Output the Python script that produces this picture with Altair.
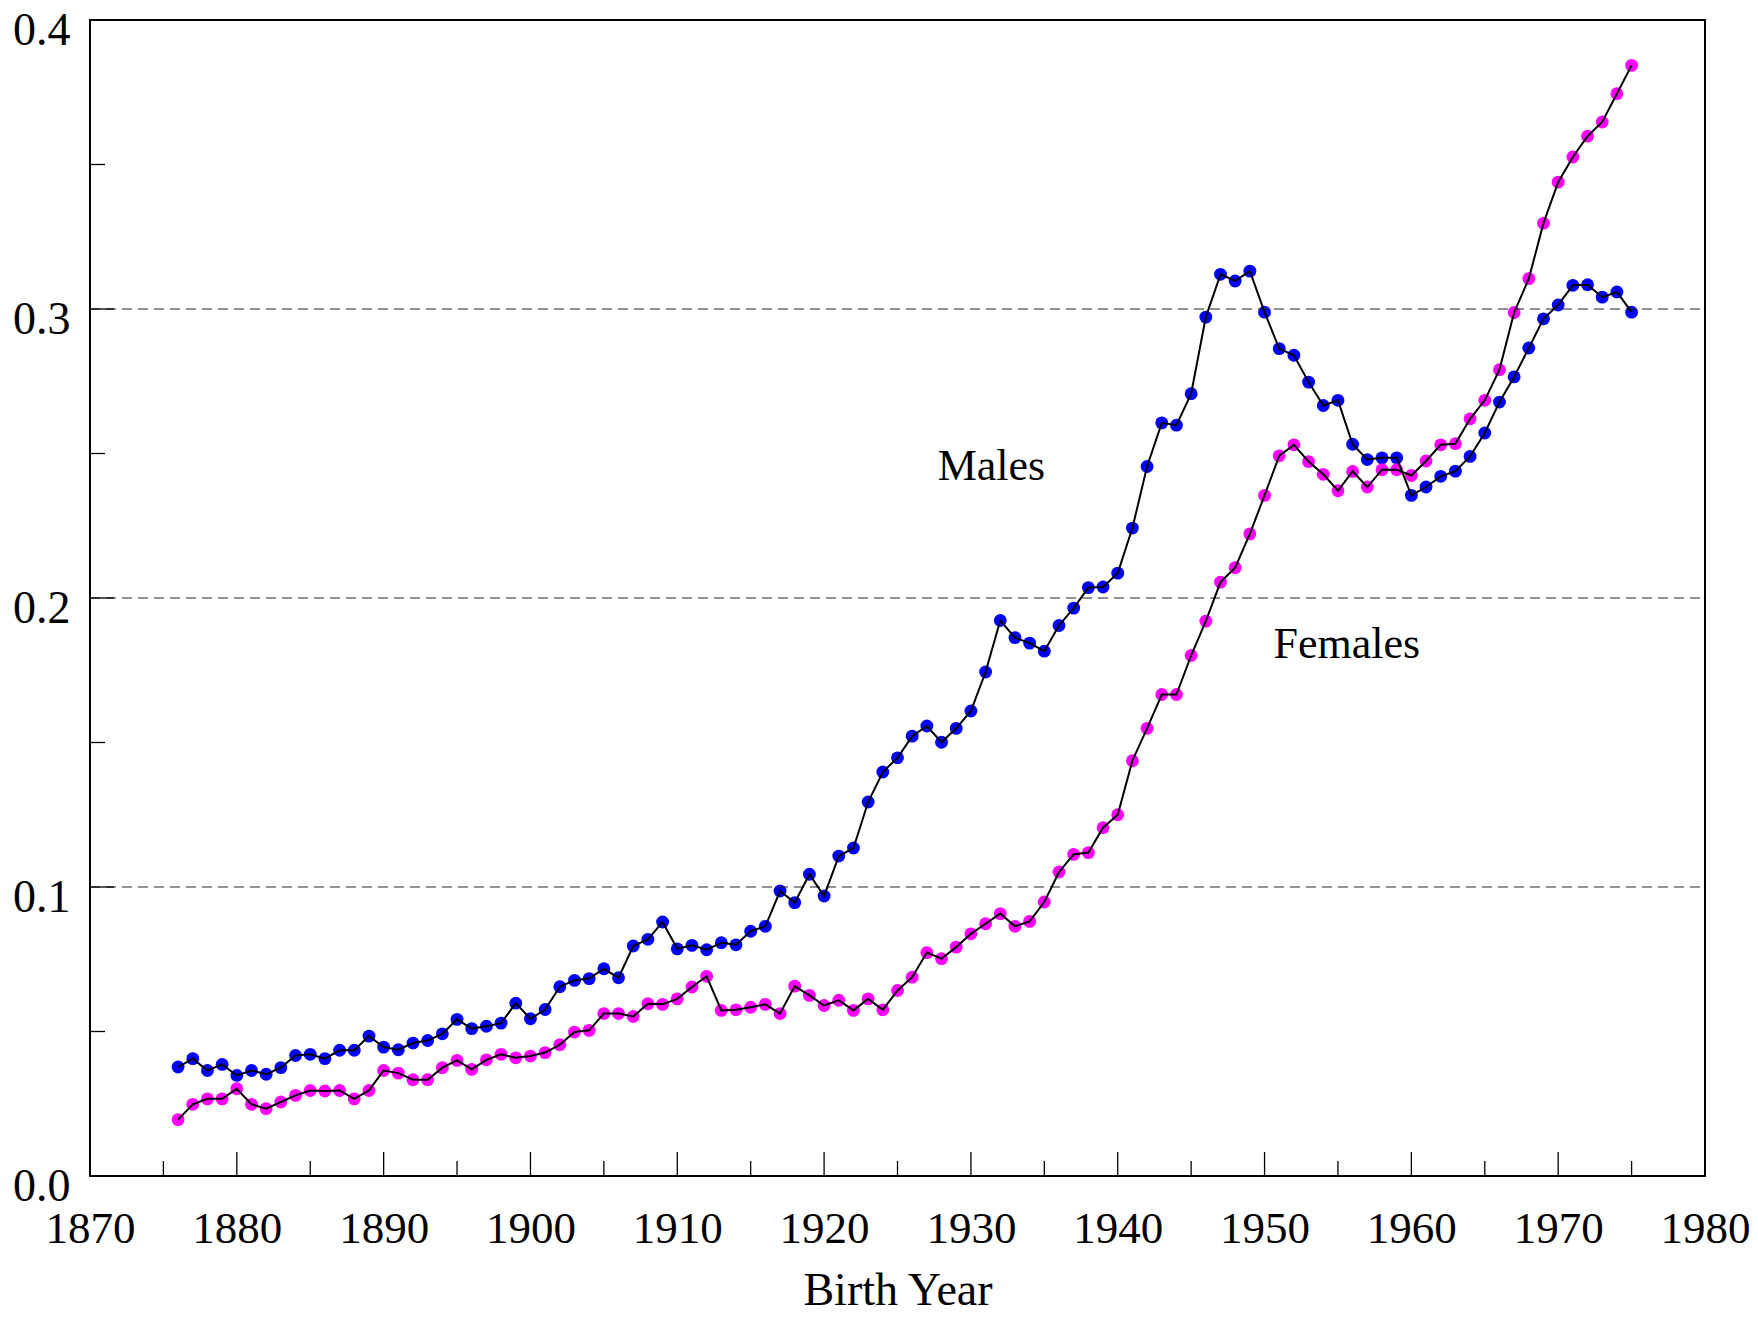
import altair as alt
import pandas as pd

# ---------------- data ----------------
years = list(range(1876, 1976))

males = [
    0.0377, 0.0406, 0.0365, 0.0386, 0.0348, 0.0365, 0.0352, 0.0375, 0.0417, 0.0421,
    0.0406, 0.0435, 0.0435, 0.0484, 0.0446, 0.0437, 0.0460, 0.0469, 0.0492, 0.0542,
    0.0510, 0.0518, 0.0529, 0.0598, 0.0544, 0.0576, 0.0655, 0.0677, 0.0683, 0.0717,
    0.0686, 0.0796, 0.0819, 0.0879, 0.0786, 0.0798, 0.0783, 0.0807, 0.0800, 0.0847,
    0.0864, 0.0986, 0.0946, 0.1044, 0.0969, 0.1107, 0.1135, 0.1294, 0.1398, 0.1447,
    0.1522, 0.1557, 0.1501, 0.1549, 0.1609, 0.1744, 0.1922, 0.1863, 0.1844, 0.1816,
    0.1905, 0.1965, 0.2036, 0.2038, 0.2086, 0.2242, 0.2455, 0.2606, 0.2598, 0.2707,
    0.2972, 0.3120, 0.3097, 0.3131, 0.2989, 0.2863, 0.2840, 0.2747, 0.2666, 0.2684,
    0.2532, 0.2479, 0.2485, 0.2485, 0.2355, 0.2384, 0.2421, 0.2439, 0.2490, 0.2571,
    0.2678, 0.2765, 0.2865, 0.2966, 0.3014, 0.3082, 0.3084, 0.3041, 0.3059, 0.2989,
]

females = [
    0.0195, 0.0248, 0.0267, 0.0267, 0.0302, 0.0248, 0.0233, 0.0256, 0.0279, 0.0296,
    0.0294, 0.0296, 0.0267, 0.0296, 0.0365, 0.0356, 0.0333, 0.0333, 0.0375, 0.0400,
    0.0369, 0.0402, 0.0421, 0.0409, 0.0415, 0.0427, 0.0454, 0.0498, 0.0504, 0.0562,
    0.0562, 0.0552, 0.0596, 0.0594, 0.0613, 0.0654, 0.0691, 0.0573, 0.0575, 0.0584,
    0.0594, 0.0562, 0.0657, 0.0625, 0.0590, 0.0608, 0.0573, 0.0613, 0.0575, 0.0642,
    0.0688, 0.0773, 0.0752, 0.0792, 0.0838, 0.0873, 0.0908, 0.0864, 0.0881, 0.0948,
    0.1052, 0.1113, 0.1119, 0.1205, 0.1250, 0.1437, 0.1549, 0.1666, 0.1666, 0.1801,
    0.1920, 0.2055, 0.2105, 0.2222, 0.2355, 0.2492, 0.2530, 0.2472, 0.2428, 0.2371,
    0.2438, 0.2384, 0.2444, 0.2444, 0.2424, 0.2474, 0.2530, 0.2534, 0.2620, 0.2684,
    0.2790, 0.2988, 0.3105, 0.3297, 0.3439, 0.3526, 0.3598, 0.3647, 0.3745, 0.3843,
]

series_names = ["Males", "Females"]
series_colors = ["#0000ff", "#ff00ff"]

x_label_values = list(range(1870, 1990, 10))
y_label_values = [0.0, 0.1, 0.2, 0.3, 0.4]
x_ticks_major = list(range(1880, 1980, 10))
x_ticks_minor = list(range(1875, 1980, 10))
y_ticks_major = [0.1, 0.2, 0.3]
y_ticks_minor = [0.05, 0.15, 0.25, 0.35]
y_grid = [0.1, 0.2, 0.3]

annot_labels = ["Males", "Females"]
annot_x = [1931.4, 1955.6]
annot_y = [0.2407, 0.1794]

# ---------------- tables ----------------
df = pd.DataFrame({
    "year": years * 2,
    "value": males + females,
    "series": ["Males"] * len(years) + ["Females"] * len(years),
})
annot = pd.DataFrame({"label": annot_labels, "x": annot_x, "y": annot_y})

W, H = 1615, 1156
FONT = "Liberation Serif"

x_scale = alt.Scale(domain=[1870, 1980], nice=False, zero=False)
y_scale = alt.Scale(domain=[0, 0.4], nice=False, zero=False)

x_axis = alt.Axis(
    values=x_label_values, format="d",
    labelFont=FONT, labelFontSize=45, labelColor="black",
    labelFlush=False, labelOverlap=False,
    ticks=False, tickSize=0, domain=False, grid=False,
    labelBaseline="alphabetic", labelPadding=66,
    titleFont=FONT, titleFontSize=46, titleFontWeight="normal", titleColor="black",
    titleY=128, titleBaseline="alphabetic",
)
y_axis = alt.Axis(
    values=y_label_values, format=".1f",
    labelFont=FONT, labelFontSize=46, labelColor="black",
    labelFlush=False, labelOverlap=False,
    ticks=False, tickSize=0, domain=False, grid=False,
    labelBaseline="alphabetic", labelOffset=24, labelPadding=20,
)


def X(field):
    return alt.X(field, scale=x_scale, axis=x_axis, title="Birth Year")


def Y(field):
    return alt.Y(field, scale=y_scale, axis=y_axis, title=None)


points = alt.Chart(df).mark_circle(size=165, opacity=1).encode(
    x=X("year:Q"),
    y=Y("value:Q"),
    color=alt.Color("series:N", scale=alt.Scale(domain=series_names, range=series_colors), legend=None),
)

lines = alt.Chart(df).mark_line(color="black", strokeWidth=2).encode(
    x=X("year:Q"),
    y=Y("value:Q"),
    detail="series:N",
)

grid = alt.Chart(pd.DataFrame({"g": y_grid})).mark_rule(
    color="#222222", strokeWidth=1, strokeDash=[10, 6]
).encode(y=Y("g:Q"), x=alt.value(0), x2=alt.value(W))

xmaj = alt.Chart(pd.DataFrame({"t": x_ticks_major})).mark_rule(
    color="black", strokeWidth=1.3
).encode(x=X("t:Q"), y=alt.value(H), y2=alt.value(H - 24))

xmin = alt.Chart(pd.DataFrame({"t": x_ticks_minor})).mark_rule(
    color="black", strokeWidth=1.3
).encode(x=X("t:Q"), y=alt.value(H), y2=alt.value(H - 15))

ymaj = alt.Chart(pd.DataFrame({"t": y_ticks_major})).mark_rule(
    color="black", strokeWidth=1.3
).encode(y=Y("t:Q"), x=alt.value(0), x2=alt.value(24))

ymin = alt.Chart(pd.DataFrame({"t": y_ticks_minor})).mark_rule(
    color="black", strokeWidth=1.3
).encode(y=Y("t:Q"), x=alt.value(0), x2=alt.value(15))

labels = alt.Chart(annot).mark_text(
    font=FONT, fontSize=44, color="black", align="center", baseline="alphabetic"
).encode(x=X("x:Q"), y=Y("y:Q"), text="label:N")

chart = alt.layer(points, grid, xmaj, xmin, ymaj, ymin, lines, labels).properties(
    width=W, height=H,
    autosize=alt.AutoSizeParams(type="none"),
    padding={"left": 82, "top": 12, "right": 44, "bottom": 130},
).configure_view(stroke="black", strokeWidth=2)

chart.save("out.html", embed_options={"renderer": "svg", "actions": False})
